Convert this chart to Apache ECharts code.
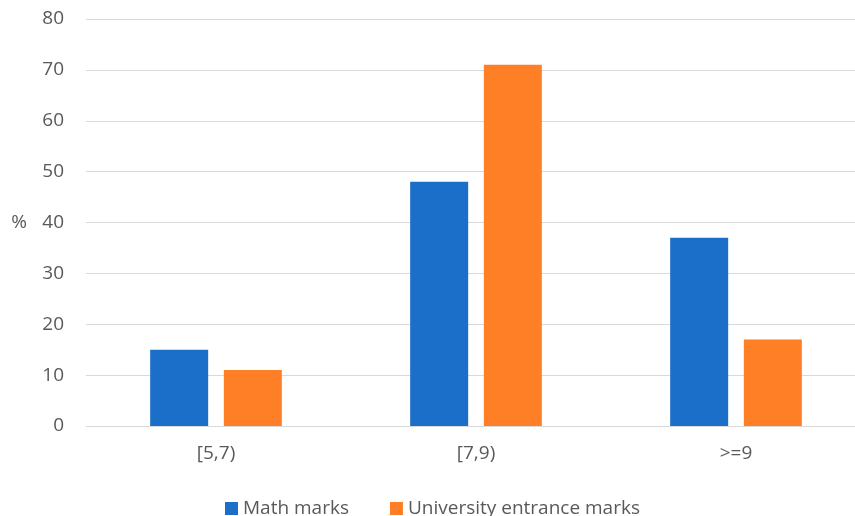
<!DOCTYPE html>
<html style="height: 100%">
<head>
    <meta charset="utf-8">
</head>
<body style="height: 100%; margin: 0; overflow: hidden">
<div id="container" style="width: 872px; height: 516px;"></div>
<script type="text/javascript" src="https://cdn.jsdelivr.net/npm/echarts@6/dist/echarts.min.js"></script>
<script type="text/javascript">
var categories = ['[5,7)', '[7,9)', '>=9'];
var mathMarks = [15, 48, 37];
var universityMarks = [11, 71, 17];

var dom = document.getElementById('container');
var myChart = echarts.init(dom);
var font = 'Open Sans';
var textColor = '#595959';

var option = {
    animation: false,
    textStyle: { fontFamily: font },
    grid: { left: 86, top: 19, width: 780, height: 407 },
    legend: {
        left: 220,
        top: 494,
        itemWidth: 13,
        itemHeight: 13,
        itemGap: 41,
        icon: 'rect',
        textStyle: { color: textColor, fontSize: 19, fontFamily: font },
        data: ['Math marks', 'University entrance marks']
    },
    xAxis: {
        type: 'category',
        data: categories,
        axisLine: { lineStyle: { color: '#d9d9d9' } },
        axisTick: { show: false },
        axisLabel: { color: textColor, fontSize: 19, margin: 18 }
    },
    yAxis: {
        type: 'value',
        min: 0,
        max: 80,
        interval: 10,
        name: '%',
        nameLocation: 'middle',
        nameRotate: 0,
        nameGap: 59,
        nameTextStyle: { color: textColor, fontSize: 19 },
        axisLabel: { color: textColor, fontSize: 19, margin: 22 },
        splitLine: { lineStyle: { color: '#d9d9d9' } }
    },
    series: [{
        name: 'Math marks',
        type: 'bar',
        data: mathMarks,
        barWidth: 58,
        barGap: '27%',
        itemStyle: { color: '#1b6fc9' }
    }, {
        name: 'University entrance marks',
        type: 'bar',
        data: universityMarks,
        barWidth: 58,
        itemStyle: { color: '#ff7f27' }
    }]
};

myChart.setOption(option);
</script>
</body>
</html>
